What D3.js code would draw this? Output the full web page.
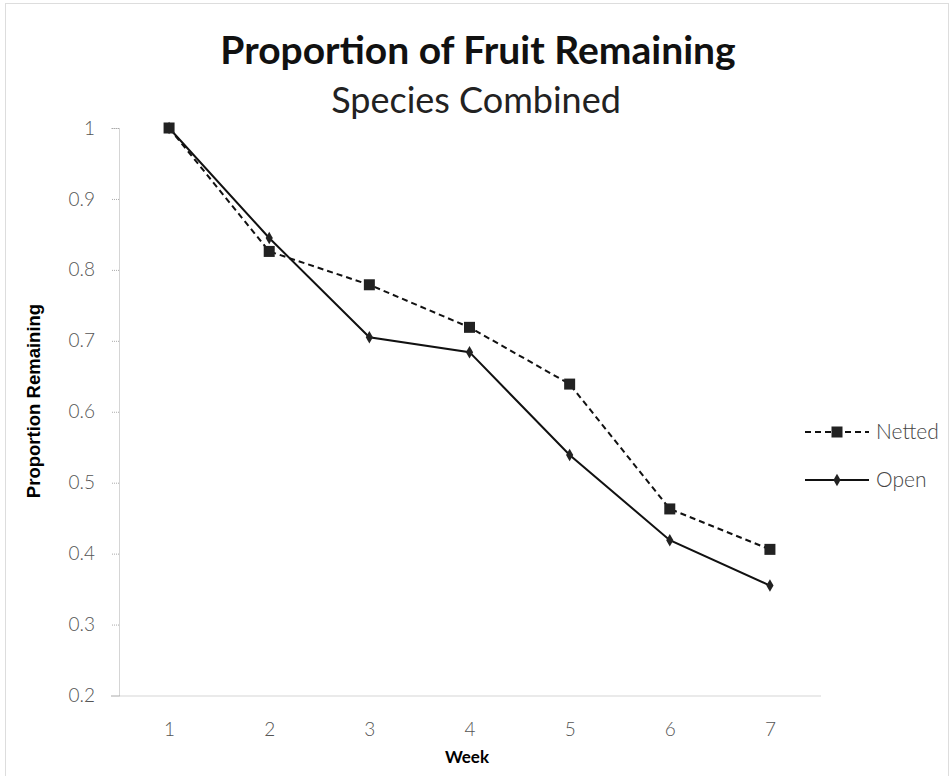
<!DOCTYPE html>
<meta charset="utf-8">
<style>
  body { margin: 0; background: #fff; }
  text { font-family: Lato, "Open Sans", sans-serif; }
</style>
<svg width="951" height="776"></svg>
<script src="https://cdn.jsdelivr.net/npm/d3@7"></script>
<script>

var weeks = [1, 2, 3, 4, 5, 6, 7],
    netted = [1.0, 0.826, 0.779, 0.719, 0.639, 0.463, 0.406],
    open = [1.0, 0.845, 0.705, 0.684, 0.539, 0.419, 0.355],
    yTicks = [0.2, 0.3, 0.4, 0.5, 0.6, 0.7, 0.8, 0.9, 1];

var svg = d3.select("svg"),
    margin = {left: 119, right: 131, top: 128, bottom: 81},
    width = 951 - margin.left - margin.right,
    height = 776 - margin.top - margin.bottom;

// chart frame
svg.append("rect")
    .attr("x", 5.5).attr("y", 3.5)
    .attr("width", 943).attr("height", 790)
    .attr("fill", "none")
    .attr("stroke", "#bbb")
    .attr("stroke-dasharray", "1,1");

svg.append("text")
    .attr("x", 478).attr("y", 64)
    .attr("text-anchor", "middle")
    .style("font-size", "39px").style("font-weight", "bold")
    .attr("fill", "#111")
    .text("Proportion of Fruit Remaining");

svg.append("text")
    .attr("x", 476).attr("y", 113)
    .attr("text-anchor", "middle")
    .style("font-size", "36px")
    .attr("fill", "#222")
    .text("Species Combined");

var g = svg.append("g").attr("transform", "translate(" + margin.left + "," + margin.top + ")");

var x = d3.scalePoint().domain(weeks).range([0, width]).padding(0.5),
    y = d3.scaleLinear().domain([0.2, 1]).range([height + 0.5, 0]);

var yAxis = g.append("g")
    .call(d3.axisLeft(y).tickValues(yTicks).tickSize(8).tickPadding(16).tickFormat(d3.format("")));
var xAxis = g.append("g")
    .attr("transform", "translate(0," + y(0.2) + ")")
    .call(d3.axisBottom(x).tickSize(0).tickPadding(27));

[yAxis, xAxis].forEach(function(a) {
  a.select(".domain").attr("stroke", "#aaa").attr("stroke-dasharray", "1,1");
  a.selectAll(".tick line").attr("stroke", "#aaa").attr("stroke-dasharray", "1,1");
  a.selectAll("text").style("font-size", "19px").style("font-weight", "300").attr("fill", "#555");
});

var line = d3.line()
    .x(function(d, i) { return x(weeks[i]); })
    .y(function(d) { return y(d); });

g.append("path").datum(open)
    .attr("d", line).attr("fill", "none")
    .attr("stroke", "#111").attr("stroke-width", 2);

g.append("path").datum(netted)
    .attr("d", line).attr("fill", "none")
    .attr("stroke", "#111").attr("stroke-width", 2)
    .attr("stroke-dasharray", "6,4");

var diamond = d3.symbol().type(d3.symbolDiamond).size(45);
g.selectAll(".open").data(open).enter().append("path")
    .attr("transform", function(d, i) { return "translate(" + x(weeks[i]) + "," + y(d) + ")"; })
    .attr("d", diamond).attr("fill", "#222");

g.selectAll(".netted").data(netted).enter().append("rect")
    .attr("x", function(d, i) { return x(weeks[i]) - 5.5; })
    .attr("y", function(d) { return y(d) - 5.5; })
    .attr("width", 11).attr("height", 11)
    .attr("fill", "#222");

svg.append("text")
    .attr("transform", "translate(40,401) rotate(-90)")
    .attr("text-anchor", "middle")
    .style("font-family", "'Liberation Sans', Arial, sans-serif")
    .style("font-size", "18.5px").style("font-weight", "bold")
    .text("Proportion Remaining");

svg.append("text")
    .attr("x", 467).attr("y", 763)
    .attr("text-anchor", "middle")
    .style("font-size", "17px").style("font-weight", "bold")
    .text("Week");

// legend
var legend = svg.append("g").attr("transform", "translate(805,432)");
var items = [{name: "Netted", dash: "6,4", sym: "square"}, {name: "Open", dash: null, sym: "diamond"}];
items.forEach(function(it, i) {
  var row = legend.append("g").attr("transform", "translate(0," + (i * 48) + ")");
  row.append("line").attr("x1", 0).attr("x2", 64)
      .attr("stroke", "#111").attr("stroke-width", 2)
      .attr("stroke-dasharray", it.dash);
  if (it.sym === "square") {
    row.append("rect").attr("x", 26.5).attr("y", -5.5).attr("width", 11).attr("height", 11).attr("fill", "#222");
  } else {
    row.append("path").attr("transform", "translate(32,0)").attr("d", diamond).attr("fill", "#222");
  }
  row.append("text").attr("x", 71).attr("y", 7)
      .style("font-size", "21px").style("font-weight", "300").attr("fill", "#444")
      .text(it.name);
});

</script>
